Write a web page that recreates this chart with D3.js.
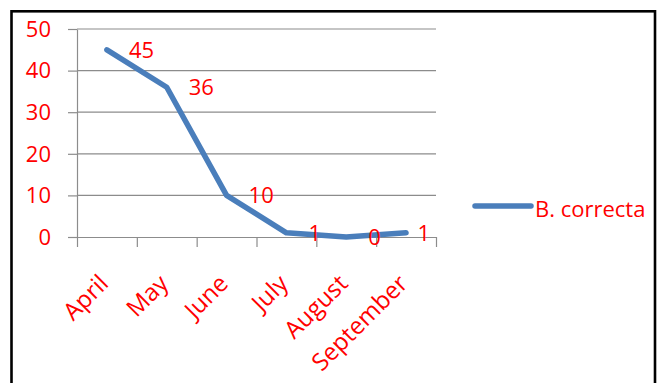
<!DOCTYPE html>
<html>
<head>
<meta charset="utf-8">
<script src="https://cdn.jsdelivr.net/npm/d3@7"></script>
<style>
  body { margin: 0; background: #fff; }
  text { font-family: "Open Sans", sans-serif; }
</style>
</head>
<body>
<div id="chart"></div>
<script>

var months = ["April", "May", "June", "July", "August", "September"];
var values = [45, 36, 10, 1, 0, 1];
var yTicks = [0, 10, 20, 30, 40, 50];
var seriesName = "B. correcta";

var W = 663, H = 383;
var margin = { left: 77, right: 227, top: 29, bottom: 146 };
var plotW = W - margin.left - margin.right;
var plotH = H - margin.top - margin.bottom;

var svg = d3.select('#chart')
  .append('svg')
    .attr('width', W)
    .attr('height', H);

// outer frame (bottom edge is off the picture)
svg.append('rect')
  .attr('x', 11.5)
  .attr('y', 11.3)
  .attr('width', 643.5)
  .attr('height', 400)
  .attr('fill', 'none')
  .attr('stroke', '#000')
  .attr('stroke-width', 2.6);

var chart = svg.append('g')
  .attr('transform', 'translate(' + margin.left + ',' + margin.top + ')');

// scales
var x = d3.scaleBand()
  .domain(months)
  .range([0, plotW])
  .padding(0);

var xTick = d3.scaleLinear()
  .domain([0, months.length])
  .range([0, plotW]);

var y = d3.scaleLinear()
  .domain([0, 50])
  .range([plotH, 0]);

// gridlines
chart.append('g')
  .attr('class', 'grid')
  .selectAll('line')
  .data(yTicks.filter(function(d) { return d > 0; }))
  .enter().append('line')
    .attr('x1', 0)
    .attr('x2', plotW)
    .attr('y1', function(d) { return y(d); })
    .attr('y2', function(d) { return y(d); })
    .attr('stroke', '#8c8c8c')
    .attr('stroke-width', 1.2);

// y axis
var yAxis = chart.append('g')
  .attr('class', 'yaxis')
  .call(d3.axisLeft(y).tickValues(yTicks).tickSizeInner(9).tickSizeOuter(0).tickPadding(17));
yAxis.select('.domain').attr('stroke', '#8c8c8c').attr('stroke-width', 1.2);
yAxis.selectAll('.tick line').attr('stroke', '#8c8c8c').attr('stroke-width', 1.2);
yAxis.selectAll('.tick text')
  .attr('fill', '#ff0000')
  .style('font-size', '22px')
  .attr('dy', '0.33em');

// x axis (ticks between categories)
var xAxis = chart.append('g')
  .attr('class', 'xaxis')
  .attr('transform', 'translate(0,' + plotH + ')')
  .call(d3.axisBottom(xTick).ticks(months.length).tickSizeInner(10).tickSizeOuter(0).tickFormat(''));
xAxis.select('.domain').attr('stroke', '#8c8c8c').attr('stroke-width', 1.2);
xAxis.selectAll('.tick line').attr('stroke', '#8c8c8c').attr('stroke-width', 1.2);

// category labels
chart.append('g')
  .selectAll('text')
  .data(months)
  .enter().append('text')
    .attr('transform', function(d) {
      return 'translate(' + (x(d) + x.bandwidth() / 2 + 3) + ',' + (plotH + 48) + ')rotate(-45)';
    })
    .style('text-anchor', 'end')
    .style('font-size', '24px')
    .attr('fill', '#ff0000')
    .text(function(d) { return d; });

// the line
var line = d3.line()
  .x(function(d, i) { return x(months[i]) + x.bandwidth() / 2; })
  .y(function(d) { return y(d); });

chart.append('path')
  .datum(values)
  .attr('d', line)
  .attr('fill', 'none')
  .attr('stroke', '#4a7ebb')
  .attr('stroke-width', 5.5)
  .attr('stroke-linejoin', 'round')
  .attr('stroke-linecap', 'round');

// data labels, right of the points, kept inside the plot
chart.append('g')
  .selectAll('text')
  .data(values)
  .enter().append('text')
    .attr('x', function(d, i) { return x(months[i]) + x.bandwidth() / 2 + 22; })
    .attr('y', function(d) { return y(d); })
    .attr('dy', '0.35em')
    .style('font-size', '22px')
    .attr('fill', '#ff0000')
    .text(function(d) { return d; })
    .each(function() {
      var t = d3.select(this);
      var len = this.getComputedTextLength();
      var xx = +t.attr('x');
      if (xx + len > plotW - 6) t.attr('x', plotW - 6 - len);
    });

// legend
var legend = svg.append('g')
  .attr('transform', 'translate(475,206)');

legend.append('line')
  .attr('x1', 0)
  .attr('x2', 56)
  .attr('y1', 0)
  .attr('y2', 0)
  .attr('stroke', '#4a7ebb')
  .attr('stroke-width', 5.5)
  .attr('stroke-linecap', 'round');

legend.append('text')
  .attr('x', 60)
  .attr('y', 11)
  .style('font-size', '22px')
  .attr('fill', '#ff0000')
  .text(seriesName);

</script>
</body>
</html>
